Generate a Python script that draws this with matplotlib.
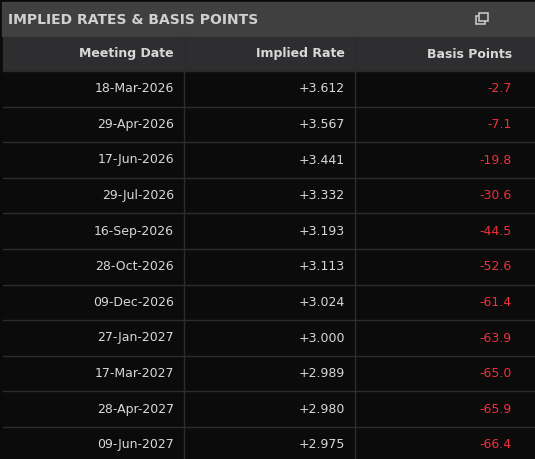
import matplotlib
matplotlib.use("Agg")
import matplotlib.pyplot as plt
from matplotlib.patches import Rectangle

title = "IMPLIED RATES & BASIS POINTS"
headers = ["Meeting Date", "Implied Rate", "Basis Points"]
dates = ["18-Mar-2026", "29-Apr-2026", "17-Jun-2026", "29-Jul-2026", "16-Sep-2026",
         "28-Oct-2026", "09-Dec-2026", "27-Jan-2027", "17-Mar-2027", "28-Apr-2027", "09-Jun-2027"]
rates = [3.612, 3.567, 3.441, 3.332, 3.193, 3.113, 3.024, 3.000, 2.989, 2.980, 2.975]
bps = [-2.7, -7.1, -19.8, -30.6, -44.5, -52.6, -61.4, -63.9, -65.0, -65.9, -66.4]

W, H = 535, 459
fig = plt.figure(figsize=(W/100, H/100), dpi=100)
fig.patch.set_facecolor("#0a0a0a")
ax = fig.add_axes([0, 0, 1, 1])
ax.set_xlim(0, W); ax.set_ylim(H, 0); ax.axis("off")

ax.add_patch(Rectangle((2, 2), W-2, 34, color="#404040"))
ax.text(8, 19.5, title, color="#d0d0d0", fontsize=10, fontweight="bold", va="center", ha="left")
# icon
ax.add_patch(Rectangle((476, 16), 9, 8, fill=False, ec="#d0d0d0", lw=1.1))
ax.add_patch(Rectangle((479, 13), 9, 8, facecolor="#404040", ec="#d0d0d0", lw=1.1))

ax.add_patch(Rectangle((3, 37), W-3, 34, color="#2e2e30"))
colx = [3, 184, 355, W]
rx = [174, 345, 512]
for i, h in enumerate(headers):
    ax.text(rx[i], 54, h, color="#d8d8d8", fontsize=9, fontweight="bold", ha="right", va="center")

top = 71; rh = 35.6
n = len(dates)
for i in range(n):
    yc = top + rh*(i+0.5)
    ax.add_patch(Rectangle((3, top+rh*i), W-3, rh, color="#0b0b0b"))
    ax.plot([3, W], [top+rh*(i+1), top+rh*(i+1)], color="#2c2c2c", lw=1)
    ax.text(rx[0], yc, dates[i], color="#d8d8d8", fontsize=9, ha="right", va="center")
    ax.text(rx[1], yc, f"{rates[i]:+.3f}", color="#d8d8d8", fontsize=9, ha="right", va="center")
    ax.text(rx[2], yc, f"{bps[i]:.1f}", color="#f0303a", fontsize=9, ha="right", va="center")
for x in colx[1:3]:
    ax.plot([x, x], [37, H], color="#2c2c2c", lw=1)
ax.plot([3, W], [top, top], color="#2c2c2c", lw=1)

fig.savefig("out.png", dpi=100, facecolor=fig.get_facecolor())
